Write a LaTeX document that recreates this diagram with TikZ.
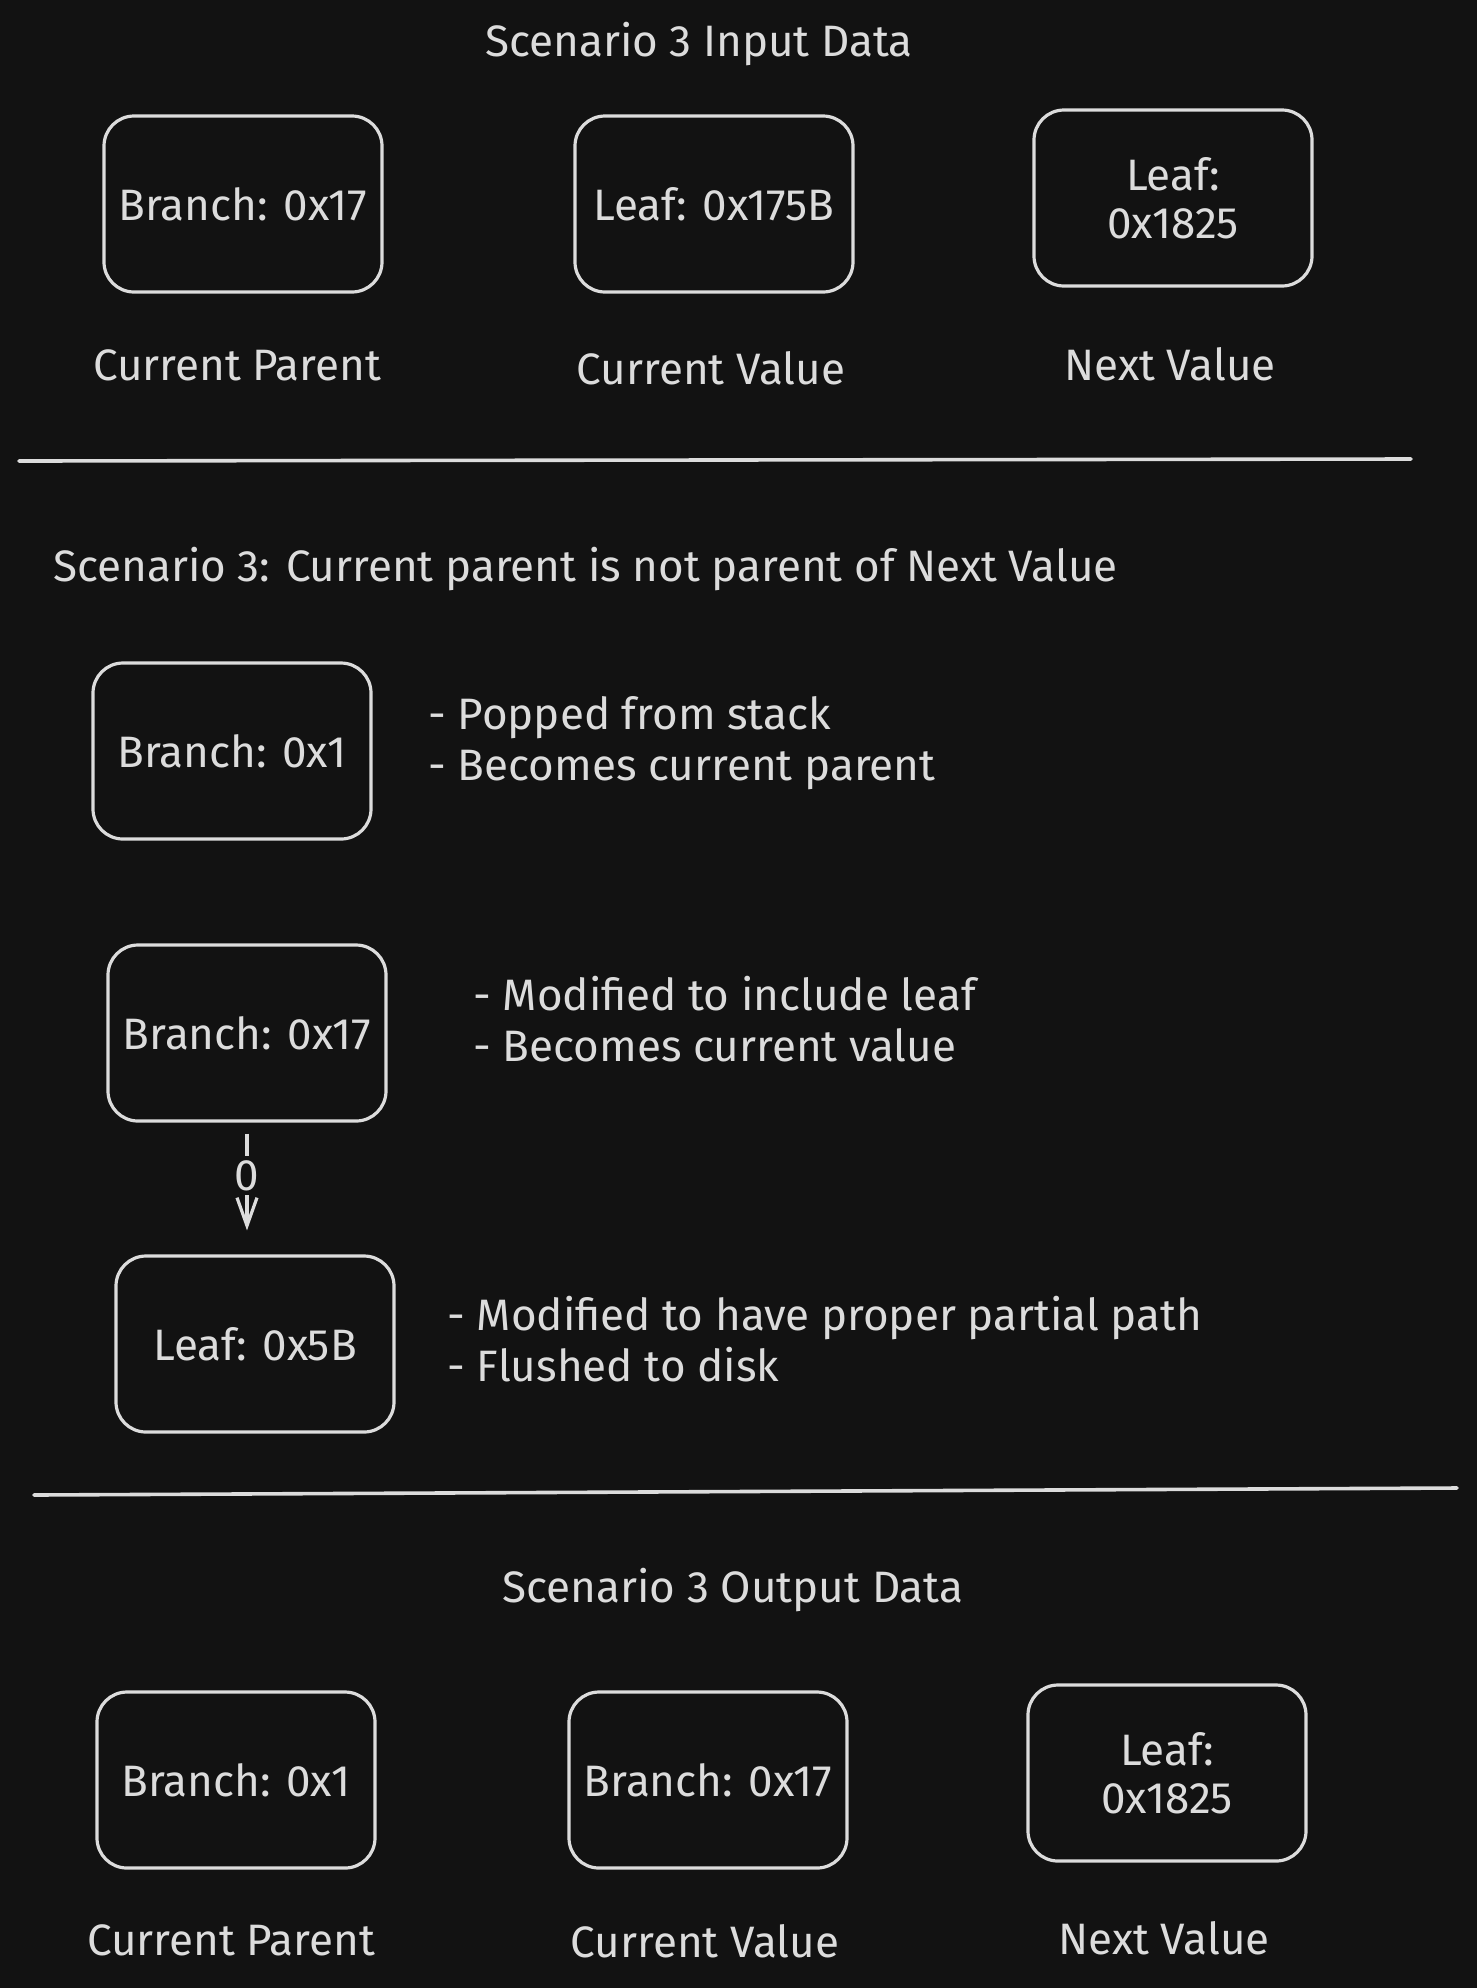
\documentclass[tikz,border=0pt]{standalone}
\usepackage{fontspec}
\setmainfont{Fira Sans}
\usetikzlibrary{positioning, arrows, arrows.meta}
\definecolor{bgdark}{HTML}{121212}
\definecolor{inkgray}{HTML}{DCDCDC}
\tikzset{
    x=0.5pt, y=-0.5pt, % one unit is one pixel of the drawing
    every node/.style={text=inkgray, font=\fontsize{22}{25.5}\selectfont},
    valuebox/.style={draw=inkgray, line width=1.6pt, rounded corners=15pt,
        minimum width=139pt, minimum height=88pt, align=center, inner sep=0pt,
        font=\fontsize{22}{24}\selectfont},
    caption/.style={anchor=center},
    note/.style={anchor=west, align=left, inner sep=0pt},
    rule/.style={draw=inkgray, line width=1.8pt, line cap=round},
    edge/.style={draw=inkgray, line width=1.6pt, -{Straight Barb[length=14pt, width=10pt]}},
    edgelabel/.style={fill=bgdark, inner sep=2pt},
}
\begin{document}
\begin{tikzpicture}
    \fill[bgdark] (0,0) rectangle (1477,1988);
    \useasboundingbox (0,0) rectangle (1477,1988);

    % input data
    \node[caption] (intitle) at (699,44) {Scenario 3 Input Data};
    \node[valuebox] (inparent) at (243,204) {Branch: 0x17};
    \node[valuebox] (invalue) at (714,204) {Leaf: 0x175B};
    \node[valuebox] (innext) at (1173,198) {Leaf:\\0x1825};
    \node[caption] (inparentlbl) at (237,365) {Current Parent};
    \node[caption] (invaluelbl) at (711,368) {Current Value};
    \node[caption] (innextlbl) at (1170,364) {Next Value};

    \draw[rule] (19,461) -- (1411,459);

    % scenario steps
    \node[note] (heading) at (53,569) {Scenario 3: Current parent is not parent of Next Value};
    \node[valuebox] (popped) at (232,751) {Branch: 0x1};
    \node[note] (poppednote) at (428,743) {- Popped from stack\\- Becomes current parent};
    \node[valuebox] (modbranch) at (247,1033) {Branch: 0x17};
    \node[note] (modbranchnote) at (473,1019) {- Modified to include leaf\\- Becomes current value};
    \node[valuebox] (modleaf) at (255,1344) {Leaf: 0x5B};
    \node[note] (modleafnote) at (447,1339) {- Modified to have proper partial path\\- Flushed to disk};

    \path[edge, shorten <=5.5pt, shorten >=12pt]
        (modbranch.south) -- node[edgelabel, pos=0.4] {0} (modbranch.south |- modleaf.north);

    \draw[rule] (34,1495) -- (1457,1488);

    % output data
    \node[caption] (outtitle) at (733,1590) {Scenario 3 Output Data};
    \node[valuebox] (outparent) at (236,1780) {Branch: 0x1};
    \node[valuebox] (outvalue) at (708,1780) {Branch: 0x17};
    \node[valuebox] (outnext) at (1167,1773) {Leaf:\\0x1825};
    \node[caption] (outparentlbl) at (231,1940) {Current Parent};
    \node[caption] (outvaluelbl) at (705,1941) {Current Value};
    \node[caption] (outnextlbl) at (1164,1938) {Next Value};
\end{tikzpicture}
\end{document}
